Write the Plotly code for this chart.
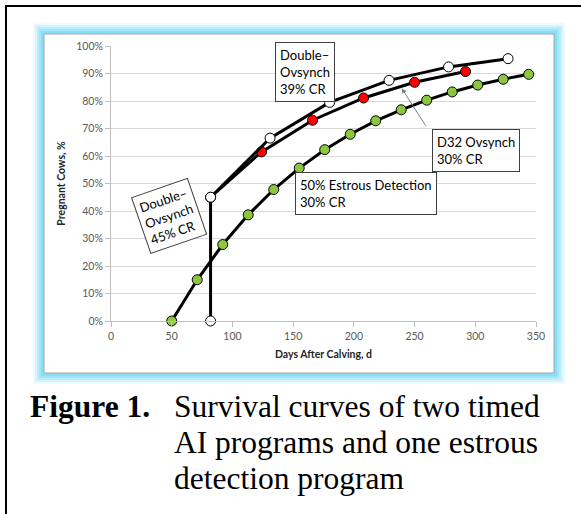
import plotly.graph_objects as go

# ---------------- data ----------------
dos_days = [82, 82, 131, 180, 229, 278, 327]
dos_preg = [0, 45, 66.5, 79.5, 87.5, 92.4, 95.4]

d32_days = [82, 124, 166, 208, 250, 292]
d32_preg = [45, 61.5, 73.0, 81.1, 86.8, 90.7]

ed_days = [50, 71, 92, 113, 134, 155, 176, 197, 218, 239, 260, 281, 302, 323, 344]
ed_preg = [0, 15, 27.8, 38.6, 47.8, 55.6, 62.3, 67.9, 72.8, 76.8, 80.3, 83.3, 85.8, 87.9, 89.7]

x_ticks = [0, 50, 100, 150, 200, 250, 300, 350]
y_ticks = [0, 10, 20, 30, 40, 50, 60, 70, 80, 90, 100]
y_tick_text = [f"{v}%" for v in y_ticks]

caption_label = "Figure 1."
caption_lines = ["Survival curves of two timed",
                 "AI programs and one estrous",
                 "detection program"]

# ---------------- layout helpers (pixel -> paper) ----------------
W, H = 581, 514
L, R, T, B = 111, 536, 46, 321


def px(x):
    return (x - L) / (R - L)


def py(y):
    return (B - y) / (B - T)


FONT = "Lato"
fig = go.Figure()

fig.add_trace(go.Scatter(
    x=ed_days, y=ed_preg, mode="lines+markers",
    line=dict(color="black", width=3),
    marker=dict(size=10, color="#8cc63f", line=dict(color="black", width=1)),
    cliponaxis=False, showlegend=False, hoverinfo="skip"))

d32_colors = ["white"] + ["#ff0000"] * (len(d32_days) - 1)
fig.add_trace(go.Scatter(
    x=d32_days, y=d32_preg, mode="lines+markers",
    line=dict(color="black", width=3),
    marker=dict(size=10, color=d32_colors, line=dict(color="black", width=1)),
    cliponaxis=False, showlegend=False, hoverinfo="skip"))

fig.add_trace(go.Scatter(
    x=dos_days, y=dos_preg, mode="lines+markers",
    line=dict(color="black", width=3),
    marker=dict(size=10, color="white", line=dict(color="black", width=1)),
    cliponaxis=False, showlegend=False, hoverinfo="skip"))

shapes = []
# outer black frame
shapes.append(dict(type="rect", xref="paper", yref="paper",
                   x0=px(6), x1=px(640), y0=py(6), y1=py(600),
                   line=dict(color="black", width=2), layer="below"))
# glow
for off, op in [(11, 0.12), (9, 0.18), (7, 0.25), (5, 0.35), (3, 0.5)]:
    shapes.append(dict(type="rect", xref="paper", yref="paper",
                       x0=px(44 - off), x1=px(554 + off), y0=py(34 - off), y1=py(373 + off),
                       fillcolor=f"rgba(110,215,245,{op})", line=dict(width=0), layer="below"))
# panel
shapes.append(dict(type="rect", xref="paper", yref="paper",
                   x0=px(44), x1=px(554), y0=py(34), y1=py(373),
                   fillcolor="white", line=dict(color="#a6a6a6", width=1), layer="below"))

annots = []
box = dict(bgcolor="white", bordercolor="#404040", borderwidth=1, borderpad=4,
           font=dict(family=FONT, size=13, color="black"), align="left",
           showarrow=False, xref="paper", yref="paper")

annots.append(dict(box, text="Double–<br>Ovsynch<br>39% CR",
                   x=px(304.7), y=py(71.5), xanchor="center", yanchor="middle"))
annots.append(dict(box, text="D32 Ovsynch<br>30% CR",
                   x=px(475.7), y=py(150), xanchor="center", yanchor="middle"))
annots.append(dict(box, text="50% Estrous Detection<br>30% CR",
                   x=px(365.5), y=py(193.3), xanchor="center", yanchor="middle"))
annots.append(dict(box, text="Double–<br>Ovsynch<br>45% CR", textangle=-19,
                   x=px(169), y=py(215.7), xanchor="center", yanchor="middle"))
# arrow for D32
annots.append(dict(text="", x=px(401.7), y=py(88.3), xref="paper", yref="paper",
                   ax=25, ay=39, showarrow=True, arrowhead=2, arrowsize=1,
                   arrowwidth=1, arrowcolor="#7f7f7f"))

# caption
CAP = dict(family="Liberation Serif", size=31.5, color="black")
annots.append(dict(text=f"<b>{caption_label}</b>", x=px(28), y=py(406), xref="paper", yref="paper",
                   xanchor="left", yanchor="middle", showarrow=False, font=CAP))
for i, line in enumerate(caption_lines):
    annots.append(dict(text=line, x=px(172), y=py(406 + 36 * i), xref="paper", yref="paper",
                       xanchor="left", yanchor="middle", showarrow=False, font=CAP))

fig.update_layout(
    width=W, height=H,
    margin=dict(l=L, r=W - R, t=T, b=H - B, pad=0),
    paper_bgcolor="white", plot_bgcolor="rgba(0,0,0,0)",
    shapes=shapes, annotations=annots, showlegend=False,
    xaxis=dict(range=[0, 350], tickvals=x_ticks, showgrid=False, zeroline=False,
               showline=True, linecolor="#bfbfbf", linewidth=1,
               ticks="outside", ticklen=5, tickcolor="#bfbfbf",
               tickfont=dict(family=FONT, size=10.5, color="#595959"),
               title=dict(text="<b>Days After Calving, d</b>", standoff=10,
                          font=dict(family=FONT, size=10.5, color="#262626"))),
    yaxis=dict(range=[0, 100], tickvals=y_ticks, ticktext=y_tick_text,
               showgrid=True, gridcolor="#d9d9d9", gridwidth=1, zeroline=False,
               showline=True, linecolor="#bfbfbf", linewidth=1,
               ticks="outside", ticklen=5, tickcolor="#bfbfbf",
               tickfont=dict(family=FONT, size=10.5, color="#595959"),
               title=dict(text="<b>Pregnant Cows, %</b>", standoff=8,
                          font=dict(family=FONT, size=10.5, color="#262626"))),
)

fig.write_html("out.html", config={"displayModeBar": False},
               post_script="document.body.style.margin='0';")
